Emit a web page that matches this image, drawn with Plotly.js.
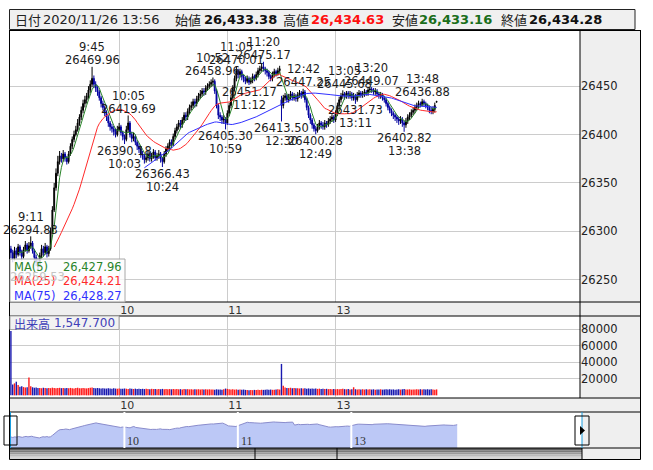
<!DOCTYPE html>
<html><head><meta charset="utf-8">
<script src="https://cdn.plot.ly/plotly-3.0.1.min.js"></script>
<style>html,body{margin:0;padding:0;background:#fff}#chart{width:653px;height:470px}</style>
</head><body><div id="chart"></div>
<script>
// ---- 1-minute bars, 9:00-11:29 and 12:30-13:56 ----
const openP = [
26282,26278,26272,26280,26276,26284,26279,26274,26281,26286,
26280,26285,26288,26280,26273,26268,26266,26275,26282,26278,
26284,26277,26282,26300,26322,26345,26360,26372,26378,26375,
26380,26376,26372,26380,26388,26395,26400,26405,26412,26418,
26425,26432,26436,26440,26446,26452,26458,26452,26448,26444,
26438,26432,26428,26422,26418,26412,26408,26406,26403,26400,
26405,26408,26402,26398,26395,26405,26412,26400,26396,26398,
26392,26388,26385,26380,26378,26374,26376,26380,26375,26378,
26382,26376,26378,26380,26375,26372,26380,26385,26388,26392,
26390,26398,26404,26408,26412,26410,26415,26420,26418,26424,
26428,26430,26434,26432,26437,26440,26442,26445,26444,26448,
26450,26452,26454,26455,26445,26430,26420,26418,26415,26416,
26412,26422,26430,26438,26448,26458,26466,26462,26465,26460,
26458,26455,26458,26454,26456,26460,26458,26462,26466,26468,
26470,26468,26466,26464,26460,26458,26462,26465,26463,26466,
26436,26430,26438,26440,26436,26439,26442,26438,26440,26437,
26441,26443,26440,26444,26436,26428,26420,26415,26410,26406,
26404,26408,26412,26410,26408,26412,26410,26414,26416,26418,
26415,26422,26430,26436,26440,26442,26440,26443,26440,26442,
26438,26440,26436,26441,26443,26441,26442,26444,26443,26446,
26447,26446,26444,26445,26442,26440,26441,26438,26436,26432,
26428,26425,26422,26420,26418,26416,26414,26416,26412,26410,
26414,26418,26420,26423,26425,26428,26430,26432,26431,26434,
26432,26430,26428,26425,26424,26426,26433.38];
const highP = [
26285,26281,26284,26283,26287,26286,26281,26284,26290,26288,
26289,26294.83,26290,26282,26276,26272,26278,26286,26285,26288,
26286,26285,26304,26326,26350,26365,26378,26383,26381,26384,
26382,26378,26383,26391,26398,26404,26409,26416,26421,26429,
26436,26440,26443,26450,26456,26469.96,26461,26455,26450,26446,
26440,26435,26430,26425,26420,26414,26411,26409,26406,26409,
26412,26410,26404,26400,26409,26419.69,26414,26403,26402,26400,
26394,26391,26387,26383,26380,26380,26383,26382,26381,26385,
26384,26381,26384,26382,26377,26383,26388,26391,26395,26395,
26401,26407,26411,26415,26415,26418,26423,26423,26427,26431,
26434,26437,26437,26440,26443,26446,26448,26448,26451,26453,
26455,26457,26458.96,26457,26447,26432,26423,26420,26420,26418,
26425,26433,26441,26451,26461,26470.01,26468,26468,26467,26462,
26460,26461,26460,26459,26463,26462,26465,26469,26471,26473,
26475.17,26470,26468,26466,26462,26465,26468,26467,26469,26471,
26440,26441,26443,26442,26442,26445,26444,26443,26442,26444,
26446,26445,26447.25,26446,26438,26430,26422,26417,26412,26409,
26411,26415,26414,26413,26415,26414,26417,26419,26421,26420,
26425,26433,26439,26443,26445.68,26444,26445,26445,26445,26444,
26443,26442,26444,26446,26445,26445,26447,26446,26448,26449,
26449.07,26448,26448,26447,26444,26444,26443,26440,26438,26434,
26430,26427,26424,26422,26420,26418,26419,26418,26414,26417,
26421,26423,26426,26428,26431,26433,26435,26434,26436.88,26436,
26434,26432,26430,26428,26429,26433,26434.63];
const lowP = [
26272,26268,26270,26272,26274,26275,26270,26272,26279,26277,
26278,26282,26277,26269,26264,26259.53,26263,26272,26274,26276,
26273,26274,26280,26298,26320,26342,26357,26369,26371,26372,
26372,26369,26370,26378,26385,26392,26398,26403,26409,26415,
26422,26428,26432,26437,26443,26449,26448,26444,26440,26435,
26428,26425,26419,26414,26408,26404,26402,26399,26397,26398,
26403,26399,26394,26390.18,26393,26402,26397,26392,26393,26389,
26384,26381,26376,26374,26370,26371,26373,26372,26372,26375,
26373,26373,26375,26371,26366.43,26370,26377,26382,26385,26386,
26388,26395,26401,26405,26406,26407,26412,26414,26415,26421,
26425,26427,26428,26429,26434,26437,26439,26440,26441,26445,
26447,26449,26450,26442,26427,26416,26414,26411,26411,26405.30,
26410,26419,26427,26435,26445,26455,26458,26459,26456,26454,
26452,26453,26451.17,26452,26453,26455,26456,26459,26463,26465,
26465,26462,26460,26457,26455,26455,26459,26460,26461,26463,
26413.50,26427,26435,26433,26433,26436,26435,26435,26434,26434,
26438,26437,26438,26433,26425,26417,26411,26406,26403,26400.28,
26402,26405,26406,26405,26405,26407,26408,26411,26413,26412,
26413,26419,26427,26433,26437,26436,26437,26437,26437,26435,
26435,26431.73,26434,26438,26438,26438,26439,26440,26440,26443,
26443,26441,26441,26439,26437,26437,26435,26433,26429,26425,
26422,26419,26416,26414,26412,26410,26411,26408,26402.82,26407,
26411,26415,26417,26420,26422,26425,26427,26428,26429,26429,
26427,26425,26422,26421,26421,26423,26433.16];
const closeP = [
26278,26272,26280,26276,26284,26279,26274,26281,26286,26280,
26285,26288,26280,26273,26268,26266,26275,26282,26278,26284,
26277,26282,26300,26322,26345,26360,26372,26378,26375,26380,
26376,26372,26380,26388,26395,26400,26405,26412,26418,26425,
26432,26436,26440,26446,26452,26458,26452,26448,26444,26438,
26432,26428,26422,26418,26412,26408,26406,26403,26400,26405,
26408,26402,26398,26395,26405,26412,26400,26396,26398,26392,
26388,26385,26380,26378,26374,26376,26380,26375,26378,26382,
26376,26378,26380,26375,26372,26380,26385,26388,26392,26390,
26398,26404,26408,26412,26410,26415,26420,26418,26424,26428,
26430,26434,26432,26437,26440,26442,26445,26444,26448,26450,
26452,26454,26455,26445,26430,26420,26418,26415,26416,26412,
26422,26430,26438,26448,26458,26466,26462,26465,26460,26458,
26455,26458,26454,26456,26460,26458,26462,26466,26468,26470,
26468,26466,26464,26460,26458,26462,26465,26463,26466,26468,
26430,26438,26440,26436,26439,26442,26438,26440,26437,26441,
26443,26440,26444,26436,26428,26420,26415,26410,26406,26404,
26408,26412,26410,26408,26412,26410,26414,26416,26418,26415,
26422,26430,26436,26440,26442,26440,26443,26440,26442,26438,
26440,26436,26441,26443,26441,26442,26444,26443,26446,26447,
26446,26444,26445,26442,26440,26441,26438,26436,26432,26428,
26425,26422,26420,26418,26416,26414,26416,26412,26410,26414,
26418,26420,26423,26425,26428,26430,26432,26431,26434,26432,
26430,26428,26425,26424,26426,26430,26434.28];
const volume = [
78000,13000,14500,16500,12500,10500,11000,10000,9500,9800,
21500,11000,9800,9200,9500,8800,9000,8600,9200,8800,
8500,9000,8700,9300,9000,8600,8900,9100,8700,8800,
8500,8900,8600,9000,8700,8400,8800,9200,8600,8500,
9000,8700,8400,8800,9300,9600,8800,8500,8900,8600,
8300,8700,8400,8200,8600,8300,8100,8500,8200,8000,
8400,8100,7900,8300,8000,7800,8200,7900,7700,8100,
7800,8000,7700,7900,7600,8000,7700,7500,7900,7600,
7800,7500,7700,7400,7800,7500,7700,7400,7600,7300,
7700,7400,7600,7300,7500,7200,7600,7300,7500,7200,
7400,7100,7500,7200,7400,7100,7300,7000,7400,7100,
7300,7000,7200,6900,7300,7000,7200,6900,7500,8200,
7800,7400,7000,7300,6900,7200,6800,7100,6700,7000,
6600,6400,6200,6500,6300,6600,6400,6700,6500,6800,
6600,6900,7100,6800,7000,6700,6900,7200,7400,7000,
38000,11500,9500,9000,8800,9200,8600,8900,8500,8700,
8300,8600,8200,8500,8100,8400,8000,8300,7900,8200,
7800,8100,7700,8000,7600,7900,7500,7800,7400,7700,
7300,7600,7400,7700,8000,7500,7300,7600,7200,7500,
9800,7400,7100,7500,7200,7400,7000,7300,7100,7400,
7000,7300,6900,7200,7000,7300,6900,7200,7500,7100,
7300,7000,7200,6900,7100,7400,7000,7300,7600,7200,
7000,7300,6900,7200,7000,7300,7100,7400,7000,7300,
7100,7400,7000,7300,7100,6900,7200];

// high / low labels
const extremeIdx   = [11, 15, 45, 63, 65, 84, 112, 119, 125, 132, 140, 150, 162, 169, 185, 191, 200, 218, 228];
const extremeTime  = ['9:11','9:15','9:45','10:03','10:05','10:24','10:52','10:59','11:05','11:12','11:20','12:30','12:42','12:49','13:05','13:11','13:20','13:38','13:48'];
const extremeVal   = [26294.83,26259.53,26469.96,26390.18,26419.69,26366.43,26458.96,26405.30,26470.01,26451.17,26475.17,26413.50,26447.25,26400.28,26445.68,26431.73,26449.07,26402.82,26436.88];
const extremeKind  = ['H','L','H','L','H','L','H','L','H','L','H','L','H','L','H','L','H','L','H'];
const extremeFaded = [false,true,false,false,false,false,false,false,false,false,false,false,false,false,false,false,false,false,false];

const hourTickIdx  = [60, 120, 180];
const hourTickText = ['10', '11', '13'];
const priceTicks   = [26250, 26300, 26350, 26400, 26450];
const volTicks     = [20000, 40000, 60000, 80000];
const maPeriods    = [5, 25, 75];
const maNames      = ['MA(5)', 'MA(25)', 'MA(75)'];
const maLegendVals = ['26,427.96', '26,424.21', '26,428.27'];
const headerLabels = ['始値', '高値', '安値', '終値'];
const headerValues = ['26,433.38', '26,434.63', '26,433.16', '26,434.28'];
const headerDate   = '2020/11/26 13:56';
const volumeTitle  = '出来高';
const volumeTotal  = '1,547.700';

// ---------------------------------------------------------------
const W = 653, H = 470;
const px = x => x / W, py = y => 1 - y / H;
const idx = closeP.map((_, i) => i);
function sma(a, n) { return a.map((_, i) => { if (i < n - 1) return null; let s = 0; for (let k = i - n + 1; k <= i; k++) s += a[k]; return s / n; }); }
const maColors = ['#2a842a', '#ff2a2a', '#3030ff'];
const FONT = 'DejaVu Sans, Noto Sans CJK JP, sans-serif';

const traces = [];
traces.push({type: 'candlestick', x: idx, open: openP, high: highP, low: lowP, close: closeP,
  xaxis: 'x', yaxis: 'y', whiskerwidth: 0, hoverinfo: 'skip',
  increasing: {line: {color: '#000000', width: 1}, fillcolor: '#000000'},
  decreasing: {line: {color: '#0000a0', width: 1}, fillcolor: '#0000a0'}});
maPeriods.forEach((n, k) => traces.push({type: 'scatter', mode: 'lines', x: idx, y: sma(closeP, n),
  xaxis: 'x', yaxis: 'y', line: {color: maColors[k], width: 1}, hoverinfo: 'skip'}));
traces.push({type: 'bar', x: idx, y: volume, xaxis: 'x2', yaxis: 'y2', hoverinfo: 'skip',
  marker: {color: closeP.map((c, i) => c >= openP[i] ? '#ff1a1a' : '#1a1ab0'), line: {width: 0}}});
traces.push({type: 'scatter', mode: 'lines', x: idx, y: closeP, xaxis: 'x3', yaxis: 'y3', fill: 'tozeroy',
  fillcolor: '#bcc8f6', line: {color: '#8a8ccc', width: 1}, hoverinfo: 'skip'});

const shapes = [];
const rect = (x0, y0, x1, y1, fill, line, layer) => shapes.push({type: 'rect', xref: 'paper', yref: 'paper',
  x0: px(x0), x1: px(x1), y0: py(y1), y1: py(y0), fillcolor: fill, line: line || {width: 0}, layer: layer || 'below'});
const hline = (x0, x1, y, c) => shapes.push({type: 'line', xref: 'paper', yref: 'paper', x0: px(x0), x1: px(x1), y0: py(y), y1: py(y), line: {color: c || '#000', width: 1}, layer: 'above'});
const vline = (x, y0, y1, c, w) => shapes.push({type: 'line', xref: 'paper', yref: 'paper', x0: px(x), x1: px(x), y0: py(y0), y1: py(y1), line: {color: c || '#000', width: w || 1}, layer: 'above'});
const GR = '#efefef';
rect(9.5, 9.5, 635, 29.5, '#f0f0f0', {color: '#222', width: 1});
rect(580, 30, 640, 302, GR);
rect(10, 302, 640, 316, GR);
rect(580, 316, 640, 398, GR);
rect(10, 398, 640, 412, GR);
rect(582, 412, 640, 459, GR);
// scrollbar (stepped gradient)
const sbCols = ['#5c5c5c', '#7a7a7a', '#9a9a9a', '#bababa', '#d6d6d6'];
sbCols.forEach((c, k) => rect(10, 448 + k * 2.2, 582, 448 + (k + 1) * 2.2, c, null, 'above'));
vline(255, 448, 459); vline(337, 448, 459); vline(582, 448, 459);
// frame lines
vline(9.5, 30, 459.5); vline(640.5, 30, 459.5);
hline(9.5, 640.5, 30.5); hline(9.5, 640.5, 302); hline(9.5, 640.5, 316); hline(9.5, 640.5, 398);
hline(9.5, 640.5, 412); hline(9.5, 640.5, 448); hline(9.5, 640.5, 459.5);
vline(580, 30, 398);
// navigator hour separators
hourTickIdx.forEach(t => shapes.push({type: 'line', xref: 'x3', yref: 'paper', x0: t, x1: t, y0: py(448), y1: py(412), line: {color: '#ffffff', width: 2}, layer: 'above'}));
// navigator handles
vline(10.5, 412, 448, '#1a9ee0'); vline(582, 412, 448, '#1a9ee0');
rect(4, 416, 17, 445, 'rgba(0,0,0,0)', {color: '#000', width: 1}, 'above');
rect(575, 416, 589, 445, 'rgba(0,0,0,0)', {color: '#000', width: 1}, 'above');
shapes.push({type: 'path', xref: 'paper', yref: 'paper', path: `M ${px(580)} ${py(426)} L ${px(585)} ${py(430.5)} L ${px(580)} ${py(435)} Z`, fillcolor: '#000', line: {width: 0}, layer: 'above'});
// legend & volume boxes
rect(10, 259, 125, 302, 'rgba(252,252,252,0.82)', {color: '#a8a8a8', width: 1}, 'above');
rect(10, 316, 119, 329.5, '#f2f2f2', {color: '#a8a8a8', width: 1}, 'above');

const ann = [];
const txt = (x, y, s, opt) => ann.push(Object.assign({xref: 'paper', yref: 'paper', x: px(x), y: py(y), text: s, showarrow: false,
  xanchor: 'left', yanchor: 'middle', font: {family: FONT, size: 12, color: '#222'}}, opt || {}));
// header
txt(13, 19.5, '日付', {font: {family: 'Noto Sans CJK JP', size: 13, color: '#222'}});
txt(41, 19.5, headerDate, {font: {family: FONT, size: 13, color: '#222'}});
const hLabX = [173, 281, 390, 499], hValX = [202, 309, 417, 527];
const hValCol = ['#111111', '#ff1010', '#1a6e1a', '#111111'];
headerLabels.forEach((s, k) => {
  txt(hLabX[k], 19.5, s, {font: {family: 'Noto Sans CJK JP', size: 13, color: '#222'}});
  txt(hValX[k], 19.5, '<b>' + headerValues[k] + '</b>', {font: {family: FONT, size: 13, color: hValCol[k]}});
});
// legend texts
maNames.forEach((s, k) => {
  txt(12, 266.5 + k * 14.5, s, {font: {family: FONT, size: 11.5, color: maColors[k]}});
  txt(124, 266.5 + k * 14.5, maLegendVals[k], {xanchor: 'right', font: {family: FONT, size: 11.5, color: maColors[k]}});
});
// volume box
txt(12, 323, volumeTitle, {font: {family: 'Noto Sans CJK JP', size: 12, color: '#4040b8'}});
txt(117, 323, volumeTotal, {xanchor: 'right', font: {family: FONT, size: 12, color: '#4040b8'}});
// navigator labels
hourTickIdx.forEach((t, k) => ann.push({xref: 'x3', yref: 'paper', x: t, y: py(440.5), text: hourTickText[k], showarrow: false,
  xanchor: 'left', yanchor: 'middle', xshift: 1, font: {family: 'Liberation Serif', size: 12, color: '#333'}}));
// high/low labels
extremeIdx.forEach((i, k) => {
  const up = extremeKind[k] === 'H' ? 1 : -1;
  const col = extremeFaded[k] ? '#c4c4c4' : '#1c1c1c';
  ann.push({xref: 'x', yref: 'y', x: i, y: extremeVal[k], text: extremeVal[k].toFixed(2), showarrow: false,
    yanchor: 'middle', yshift: 6.5 * up, font: {family: FONT, size: 11.5, color: col}});
  if (!extremeFaded[k]) ann.push({xref: 'x', yref: 'y', x: i, y: extremeVal[k], text: extremeTime[k], showarrow: false,
    yanchor: 'middle', yshift: 19.5 * up, font: {family: FONT, size: 11.5, color: col}});
});

const tickFont = {family: FONT, size: 11.5, color: '#222'};
const xMain = [px(10), px(580)];
const layout = {
  width: W, height: H, margin: {l: 0, r: 0, t: 0, b: 0}, paper_bgcolor: '#ffffff', plot_bgcolor: '#ffffff',
  showlegend: false, hovermode: false, dragmode: false, bargap: 0.22,
  xaxis: {domain: xMain, range: [-0.5, 315.5], anchor: 'y', tickmode: 'array', tickvals: hourTickIdx, ticktext: hourTickText,
    showgrid: true, gridcolor: '#cccccc', zeroline: false, showline: false, ticks: '', ticklabelshift: 8,
    tickfont: {family: FONT, size: 11, color: '#333'}, rangeslider: {visible: false}, fixedrange: true},
  yaxis: {domain: [py(302), py(30)], range: [26227, 26508], anchor: 'x', side: 'right', tickmode: 'array', tickvals: priceTicks,
    tickformat: 'd', showgrid: true, gridcolor: '#cccccc', zeroline: false, showline: false, ticks: '', tickfont: tickFont, fixedrange: true},
  xaxis2: {domain: xMain, range: [-0.5, 315.5], anchor: 'y2', tickmode: 'array', tickvals: hourTickIdx, ticktext: hourTickText,
    showgrid: true, gridcolor: '#cccccc', zeroline: false, showline: false, ticks: '', ticklabelshift: 8,
    tickfont: {family: FONT, size: 11, color: '#333'}, fixedrange: true},
  yaxis2: {domain: [py(397), py(316)], range: [-2000, 96000], anchor: 'x2', side: 'right', tickmode: 'array', tickvals: volTicks,
    tickformat: 'd', showgrid: true, gridcolor: '#cccccc', zeroline: false, showline: false, ticks: '', tickfont: tickFont, fixedrange: true},
  xaxis3: {domain: [px(10), px(582)], range: [-0.5, 302], anchor: 'y3', showticklabels: false, showgrid: false, zeroline: false, ticks: '', fixedrange: true},
  yaxis3: {domain: [py(448), py(412)], range: [26138, 26597], anchor: 'x3', visible: false, fixedrange: true},
  shapes: shapes, annotations: ann
};
Plotly.newPlot('chart', traces, layout, {staticPlot: true, displayModeBar: false});
</script></body></html>
